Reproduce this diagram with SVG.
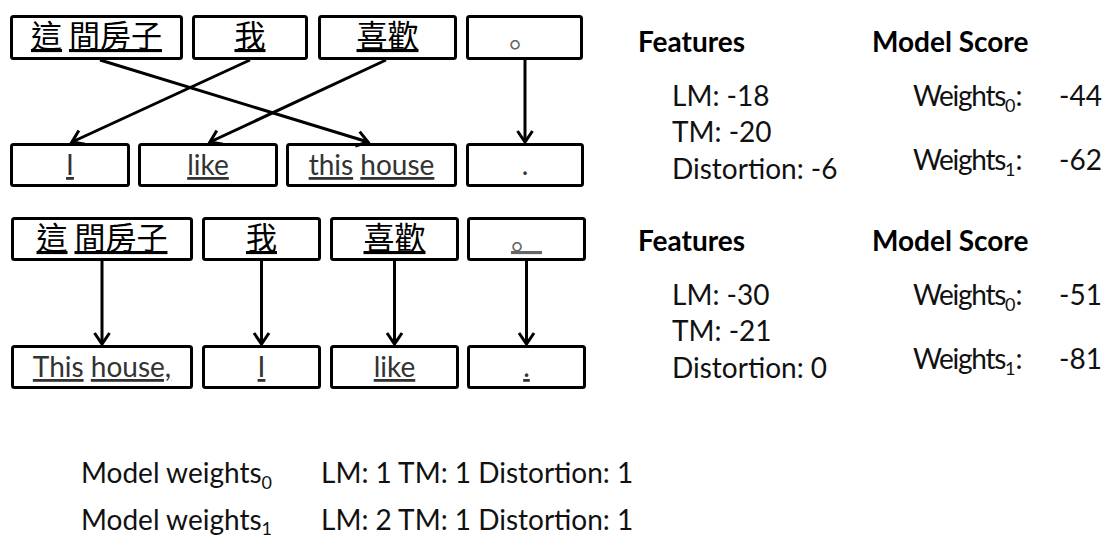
<svg xmlns="http://www.w3.org/2000/svg" width="1105" height="542" viewBox="0 0 1105 542">
  <style>
    .box { fill: #fff; stroke: #000; stroke-width: 3; }
    .cjk { font-family: "Noto Sans CJK TC", "Noto Sans CJK SC", sans-serif; font-size: 31px; fill: #000; text-anchor: middle; }
    .stop { font-family: "Noto Sans CJK SC", "Noto Sans CJK JP", sans-serif; font-size: 31px; fill: #666; text-anchor: middle; }
    .en { font-family: Lato, "Open Sans", sans-serif; font-size: 28px; fill: #333; text-anchor: middle; }
    .u { text-decoration: underline; }
    .lbl { font-family: Lato, "Open Sans", sans-serif; font-size: 28px; fill: #111; }
    .num { text-anchor: end; }
    .tight { letter-spacing: -1.3px; }
    .hd { font-family: Lato, "Open Sans", sans-serif; font-size: 28px; font-weight: bold; fill: #000; }
    .sub { font-size: 18px; }
    .link { stroke: #000; stroke-width: 3; fill: none; marker-end: url(#arrow); }
  </style>
  <defs>
    <marker id="arrow" markerUnits="userSpaceOnUse" markerWidth="20" markerHeight="20" viewBox="-12 -10 14 20" refX="0" refY="0" orient="auto">
      <path d="M-11,-7.5 L0,0 L-11,7.5" fill="none" stroke="#000" stroke-width="3"/>
    </marker>
  </defs>

  <rect width="1105" height="542" fill="#fff"/>

  <!-- Example 1: source segments -->
  <g id="s1-zhe-jian">
    <rect class="box" x="11.5" y="16.5" width="170" height="42" rx="2"/>
    <text class="cjk" x="96.5" y="47"><tspan class="u">這</tspan> <tspan class="u">間房子</tspan></text>
  </g>
  <g id="s1-wo">
    <rect class="box" x="193.5" y="16.5" width="113" height="42" rx="2"/>
    <text class="cjk u" x="250" y="47">我</text>
  </g>
  <g id="s1-xihuan">
    <rect class="box" x="319.5" y="16.5" width="136" height="42" rx="2"/>
    <text class="cjk u" x="387.5" y="47">喜歡</text>
  </g>
  <g id="s1-period">
    <rect class="box" x="467.5" y="16.5" width="114" height="42" rx="2"/>
    <text class="stop" x="524.5" y="47">。</text>
  </g>

  <!-- Example 1: target segments -->
  <g id="t1-i">
    <rect class="box" x="11.5" y="144.5" width="117" height="41" rx="2"/>
    <text class="en u" x="70" y="175">I</text>
  </g>
  <g id="t1-like">
    <rect class="box" x="139.5" y="144.5" width="137" height="41" rx="2"/>
    <text class="en u" x="208" y="175">like</text>
  </g>
  <g id="t1-this-house">
    <rect class="box" x="287.5" y="144.5" width="168" height="41" rx="2"/>
    <text class="en" x="371.5" y="175"><tspan class="u">this</tspan> <tspan class="u">house</tspan></text>
  </g>
  <g id="t1-period">
    <rect class="box" x="467.5" y="144.5" width="115" height="41" rx="2"/>
    <text class="en" x="525" y="175">.</text>
  </g>

  <!-- Example 2: source segments -->
  <g id="s2-zhe-jian">
    <rect class="box" x="12.5" y="218.5" width="179" height="41" rx="2"/>
    <text class="cjk" x="102" y="249"><tspan class="u">這</tspan> <tspan class="u">間房子</tspan></text>
  </g>
  <g id="s2-wo">
    <rect class="box" x="203.5" y="218.5" width="116" height="41" rx="2"/>
    <text class="cjk u" x="261.5" y="249">我</text>
  </g>
  <g id="s2-xihuan">
    <rect class="box" x="331.5" y="218.5" width="126" height="41" rx="2"/>
    <text class="cjk u" x="394.5" y="249">喜歡</text>
  </g>
  <g id="s2-period">
    <rect class="box" x="468.5" y="218.5" width="116" height="41" rx="2"/>
    <text class="stop u" x="526.5" y="249">。</text>
  </g>

  <!-- Example 2: target segments -->
  <g id="t2-this-house">
    <rect class="box" x="12.5" y="346.5" width="179" height="41" rx="2"/>
    <text class="en" x="102" y="377"><tspan class="u">This</tspan> <tspan class="u">house,</tspan></text>
  </g>
  <g id="t2-i">
    <rect class="box" x="203.5" y="346.5" width="116" height="41" rx="2"/>
    <text class="en u" x="261.5" y="377">I</text>
  </g>
  <g id="t2-like">
    <rect class="box" x="331.5" y="346.5" width="126" height="41" rx="2"/>
    <text class="en u" x="394.5" y="377">like</text>
  </g>
  <g id="t2-period">
    <rect class="box" x="468.5" y="346.5" width="116" height="41" rx="2"/>
    <text class="en u" x="526.5" y="377">.</text>
  </g>

  <!-- Alignment links -->
  <g id="links">
    <line class="link" x1="100" y1="60" x2="368" y2="142"/>
    <line class="link" x1="250" y1="60" x2="72" y2="142"/>
    <line class="link" x1="386" y1="60" x2="210" y2="142"/>
    <line class="link" x1="525" y1="60" x2="525" y2="142"/>
    <line class="link" x1="102" y1="261" x2="102" y2="344"/>
    <line class="link" x1="261.5" y1="261" x2="261.5" y2="344"/>
    <line class="link" x1="394.5" y1="261" x2="394.5" y2="344"/>
    <line class="link" x1="526.5" y1="261" x2="526.5" y2="344"/>
  </g>

  <!-- Example 1: features and scores -->
  <g id="scores-1">
    <text class="hd" x="638" y="52">Features</text>
    <text class="hd" x="872" y="52">Model Score</text>
    <text class="lbl" x="672" y="106">LM: -18</text>
    <text class="lbl" x="672" y="142">TM: -20</text>
    <text class="lbl" x="672" y="179">Distortion: -6</text>
    <text class="lbl" x="913" y="106"><tspan class="tight">Weights</tspan><tspan class="sub" dy="6">0</tspan><tspan dy="-6">:</tspan></text>
    <text class="lbl num" x="1102" y="106">-44</text>
    <text class="lbl" x="913" y="170"><tspan class="tight">Weights</tspan><tspan class="sub" dy="6">1</tspan><tspan dy="-6">:</tspan></text>
    <text class="lbl num" x="1102" y="170">-62</text>
  </g>

  <!-- Example 2: features and scores -->
  <g id="scores-2">
    <text class="hd" x="638" y="251">Features</text>
    <text class="hd" x="872" y="251">Model Score</text>
    <text class="lbl" x="672" y="305">LM: -30</text>
    <text class="lbl" x="672" y="341">TM: -21</text>
    <text class="lbl" x="672" y="378">Distortion: 0</text>
    <text class="lbl" x="913" y="305"><tspan class="tight">Weights</tspan><tspan class="sub" dy="6">0</tspan><tspan dy="-6">:</tspan></text>
    <text class="lbl num" x="1102" y="305">-51</text>
    <text class="lbl" x="913" y="369"><tspan class="tight">Weights</tspan><tspan class="sub" dy="6">1</tspan><tspan dy="-6">:</tspan></text>
    <text class="lbl num" x="1102" y="369">-81</text>
  </g>

  <!-- Weight vectors -->
  <g id="weights">
    <text class="lbl" x="81" y="483">Model weights<tspan class="sub" dy="6">0</tspan></text>
    <text class="lbl" x="321" y="483">LM: 1 TM: 1 Distortion: 1</text>
    <text class="lbl" x="81" y="530">Model weights<tspan class="sub" dy="5">1</tspan></text>
    <text class="lbl" x="321" y="530">LM: 2 TM: 1 Distortion: 1</text>
  </g>
</svg>
